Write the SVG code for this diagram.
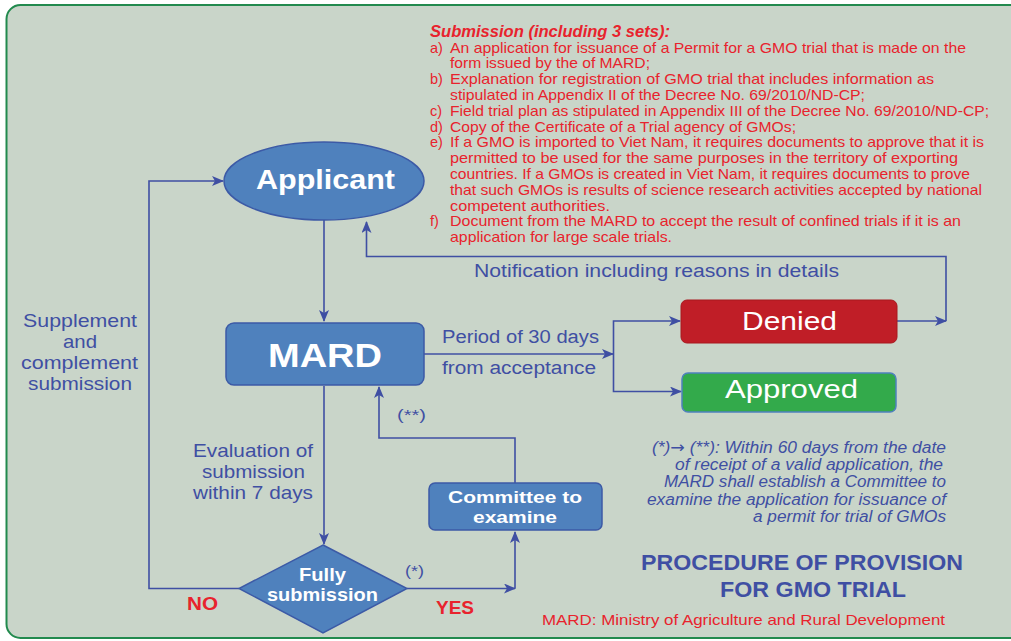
<svg xmlns="http://www.w3.org/2000/svg" width="1011" height="641" viewBox="0 0 1011 641">
<defs>
<marker id="arr" markerWidth="12" markerHeight="10" refX="11" refY="5" orient="auto" markerUnits="userSpaceOnUse">
<path d="M0,0 L12,5 L0,10 L3,5 z" fill="#3f4fa3"/>
</marker>
<style>
text{font-family:"Liberation Sans",Arial,sans-serif}
.bl{fill:#3f4fa3}
.rd{fill:#e8232d}
.wt{fill:#ffffff}
.b{font-weight:bold}
.it{font-style:italic}
.lst{font-size:14.5px;fill:#e8232d}
.conn path{stroke:#3f4fa3;stroke-width:1.6;fill:none}
.node{fill:#4f81bd;stroke:#3c5aa6;stroke-width:1.5}
</style>
</defs>
<rect x="6.5" y="5" width="1030" height="633" rx="14" fill="#c9d5c9" stroke="#228a4e" stroke-width="2"/>

<g id="submission-list">
<text x="430" y="37" class="rd b it" font-size="17" textLength="240" lengthAdjust="spacingAndGlyphs">Submission (including 3 sets):</text>
<text x="430" y="52.5" class="lst">a)</text>
<text x="450" y="52.5" class="lst" textLength="516" lengthAdjust="spacingAndGlyphs">An application for issuance of a Permit for a GMO trial that is made on the</text>
<text x="450" y="68.3" class="lst" textLength="200" lengthAdjust="spacingAndGlyphs">form issued by the of MARD;</text>
<text x="430" y="84.1" class="lst">b)</text>
<text x="450" y="84.1" class="lst" textLength="484" lengthAdjust="spacingAndGlyphs">Explanation for registration of GMO trial that includes information as</text>
<text x="450" y="99.9" class="lst" textLength="415" lengthAdjust="spacingAndGlyphs">stipulated in Appendix II of the Decree No. 69/2010/ND-CP;</text>
<text x="430" y="115.7" class="lst">c)</text>
<text x="450" y="115.7" class="lst" textLength="539" lengthAdjust="spacingAndGlyphs">Field trial plan as stipulated in Appendix III of the Decree No. 69/2010/ND-CP;</text>
<text x="430" y="131.5" class="lst">d)</text>
<text x="450" y="131.5" class="lst" textLength="346" lengthAdjust="spacingAndGlyphs">Copy of the Certificate of a Trial agency of GMOs;</text>
<text x="430" y="147.3" class="lst">e)</text>
<text x="450" y="147.3" class="lst" textLength="534" lengthAdjust="spacingAndGlyphs">If a GMO is imported to Viet Nam, it requires documents to approve that it is</text>
<text x="450" y="163.1" class="lst" textLength="508" lengthAdjust="spacingAndGlyphs">permitted to be used for the same purposes in the territory of exporting</text>
<text x="450" y="178.9" class="lst" textLength="520" lengthAdjust="spacingAndGlyphs">countries. If a GMOs is created in Viet Nam, it requires documents to prove</text>
<text x="450" y="194.7" class="lst" textLength="532" lengthAdjust="spacingAndGlyphs">that such GMOs is results of science research activities accepted by national</text>
<text x="450" y="210.5" class="lst" textLength="160" lengthAdjust="spacingAndGlyphs">competent authorities.</text>
<text x="430" y="226.3" class="lst">f)</text>
<text x="450" y="226.3" class="lst" textLength="511" lengthAdjust="spacingAndGlyphs">Document from the MARD to accept the result of confined trials if it is an</text>
<text x="450" y="242.1" class="lst" textLength="222" lengthAdjust="spacingAndGlyphs">application for large scale trials.</text>
</g>

<g class="conn" id="connectors">
<path d="M324,220 V321" marker-end="url(#arr)"/>
<path d="M897,321 H946" marker-end="url(#arr)"/>
<path d="M946,321 V256.5 H366.5 V222" marker-end="url(#arr)"/>
<path d="M424,354 H613" marker-end="url(#arr)"/>
<path d="M613.5,354 V321 H680" marker-end="url(#arr)"/>
<path d="M613.5,354 V391.5 H681" marker-end="url(#arr)"/>
<path d="M324,386 V544" marker-end="url(#arr)"/>
<path d="M407,588.5 H515" marker-end="url(#arr)"/>
<path d="M515,588.5 V532" marker-end="url(#arr)"/>
<path d="M515,483 V438 H379 V387" marker-end="url(#arr)"/>
<path d="M239,588.5 H149 V181 H223" marker-end="url(#arr)"/>
</g>

<g id="applicant">
<ellipse cx="324" cy="181" rx="100" ry="39" class="node"/>
<text x="256" y="189" class="wt b" font-size="27" textLength="139" lengthAdjust="spacingAndGlyphs">Applicant</text>
</g>

<g id="mard">
<rect x="226" y="323" width="198" height="62" rx="8" class="node"/>
<text x="268" y="367" class="wt b" font-size="34" textLength="114" lengthAdjust="spacingAndGlyphs">MARD</text>
</g>

<g id="denied">
<rect x="681" y="300" width="216" height="43" rx="6" fill="#c01e27" stroke="#a8181f" stroke-width="1"/>
<text x="742" y="330" class="wt" font-size="26" textLength="95" lengthAdjust="spacingAndGlyphs">Denied</text>
</g>

<g id="approved">
<rect x="682" y="373" width="214" height="39" rx="6" fill="#33aa4b" stroke="#4f81bd" stroke-width="1.5"/>
<text x="725" y="398" class="wt" font-size="26" textLength="133" lengthAdjust="spacingAndGlyphs">Approved</text>
</g>

<g id="committee">
<rect x="429" y="483" width="173" height="47" rx="6" class="node"/>
<text x="448" y="503" class="wt b" font-size="17" textLength="134" lengthAdjust="spacingAndGlyphs">Committee to</text>
<text x="473" y="523" class="wt b" font-size="17" textLength="84" lengthAdjust="spacingAndGlyphs">examine</text>
</g>

<g id="fully-submission">
<polygon points="323,545 407,588.5 323,633 239,588.5" class="node"/>
<text x="299" y="581" class="wt b" font-size="18" textLength="47" lengthAdjust="spacingAndGlyphs">Fully</text>
<text x="267" y="601" class="wt b" font-size="18" textLength="111" lengthAdjust="spacingAndGlyphs">submission</text>
</g>

<g id="labels">
<text x="474" y="277" class="bl" font-size="18" textLength="365" lengthAdjust="spacingAndGlyphs">Notification including reasons in details</text>
<text x="442" y="343" class="bl" font-size="18" textLength="157" lengthAdjust="spacingAndGlyphs">Period of 30 days</text>
<text x="442" y="374" class="bl" font-size="18" textLength="154" lengthAdjust="spacingAndGlyphs">from acceptance</text>
<text x="397" y="420" class="bl" font-size="15" textLength="29" lengthAdjust="spacingAndGlyphs">(**)</text>
<text x="405" y="576" class="bl" font-size="15" textLength="19" lengthAdjust="spacingAndGlyphs">(*)</text>
<text x="23" y="327" class="bl" font-size="19" textLength="114" lengthAdjust="spacingAndGlyphs">Supplement</text>
<text x="63" y="348" class="bl" font-size="19" textLength="34" lengthAdjust="spacingAndGlyphs">and</text>
<text x="21" y="369" class="bl" font-size="19" textLength="117" lengthAdjust="spacingAndGlyphs">complement</text>
<text x="28" y="390" class="bl" font-size="19" textLength="104" lengthAdjust="spacingAndGlyphs">submission</text>
<text x="193" y="457" class="bl" font-size="19" textLength="120" lengthAdjust="spacingAndGlyphs">Evaluation of</text>
<text x="202" y="478" class="bl" font-size="19" textLength="103" lengthAdjust="spacingAndGlyphs">submission</text>
<text x="193" y="499" class="bl" font-size="19" textLength="120" lengthAdjust="spacingAndGlyphs">within 7 days</text>
<text x="187" y="610" class="rd b" font-size="18" textLength="31" lengthAdjust="spacingAndGlyphs">NO</text>
<text x="436" y="614" class="rd b" font-size="18" textLength="38" lengthAdjust="spacingAndGlyphs">YES</text>
</g>

<g id="note">
<text x="652" y="453" class="bl it" font-size="16" textLength="294" lengthAdjust="spacingAndGlyphs">(*)<tspan font-family="'DejaVu Sans',sans-serif" font-style="normal">→</tspan> (**): Within 60 days from the date</text>
<text x="675" y="470" class="bl it" font-size="16" textLength="268" lengthAdjust="spacingAndGlyphs">of receipt of a valid application, the</text>
<text x="664" y="487" class="bl it" font-size="16" textLength="282" lengthAdjust="spacingAndGlyphs">MARD shall establish a Committee to</text>
<text x="647" y="505" class="bl it" font-size="16" textLength="299" lengthAdjust="spacingAndGlyphs">examine the application for issuance of</text>
<text x="753" y="522" class="bl it" font-size="16" textLength="193" lengthAdjust="spacingAndGlyphs">a permit for trial of GMOs</text>
</g>

<g id="title">
<text x="641" y="570" class="bl b" font-size="22" textLength="322" lengthAdjust="spacingAndGlyphs">PROCEDURE OF PROVISION</text>
<text x="720" y="597" class="bl b" font-size="22" textLength="186" lengthAdjust="spacingAndGlyphs">FOR GMO TRIAL</text>
<text x="542" y="625" class="rd" font-size="15" textLength="403" lengthAdjust="spacingAndGlyphs">MARD: Ministry of Agriculture and Rural Development</text>
</g>
</svg>
